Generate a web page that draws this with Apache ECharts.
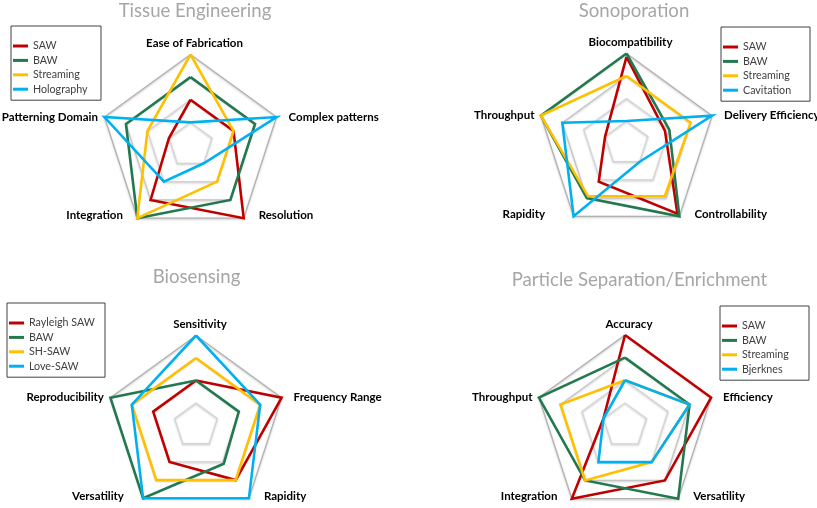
<!DOCTYPE html>
<html><head><meta charset="utf-8">
<script src="https://cdn.jsdelivr.net/npm/echarts@6/dist/echarts.min.js"></script>
<style>html,body{margin:0;padding:0;background:#fff}#c{width:817px;height:508px}</style>
</head><body><div id="c"></div>
<script>
// ---- data (axes listed clockwise from the top, as in the reference) ----
const tissueTitle = 'Tissue Engineering';
const tissueAxes = ['Ease of Fabrication', 'Complex patterns', 'Resolution', 'Integration', 'Patterning Domain'];
const tissueNames = ['SAW', 'BAW', 'Streaming', 'Holography'];
const tissueSAW = [2, 2, 4, 3, 1];
const tissueBAW = [3, 3, 3, 4, 3];
const tissueStreaming = [4, 2, 2, 4, 2];
const tissueHolography = [1, 4, 1, 2, 4];

const sonoTitle = 'Sonoporation';
const sonoAxes = ['Biocompatibility', 'Delivery Efficiency', 'Controllability', 'Rapidity', 'Throughput'];
const sonoNames = ['SAW', 'BAW', 'Streaming', 'Cavitation'];
const sonoSAW = [3.85, 1.8, 3.85, 2.1, 1];
const sonoBAW = [4, 2, 4, 3, 4];
const sonoStreaming = [3, 3, 2.9, 2.9, 4];
const sonoCavitation = [1, 4, 1, 4, 3];

const bioTitle = 'Biosensing';
const bioAxes = ['Sensitivity', 'Frequency Range', 'Rapidity', 'Versatility', 'Reproducibility'];
const bioNames = ['Rayleigh SAW', 'BAW', 'SH-SAW', 'Love-SAW'];
const bioRayleigh = [2, 4, 3, 2, 2];
const bioBAW = [2, 2, 2.1, 4, 4];
const bioSH = [3, 3, 3, 3, 3];
const bioLove = [4, 3, 4, 4, 3];

const sepTitle = 'Particle Separation/Enrichment';
const sepAxes = ['Accuracy', 'Efficiency', 'Versatility', 'Integration', 'Throughput'];
const sepNames = ['SAW', 'BAW', 'Streaming', 'Bjerknes'];
const sepSAW = [4, 4, 3, 4, 1];
const sepBAW = [3, 3, 4, 3, 4];
const sepStreaming = [2, 3, 2, 3, 3];
const sepBjerknes = [2, 3, 2, 2, 1];

const axisMax = 4;

// ---- styling / layout ----
const seriesColors = ['#c00000', '#23794f', '#ffc000', '#00b0f0'];
const panels = [
  { title: tissueTitle, axes: tissueAxes, names: tissueNames, values: [tissueSAW, tissueBAW, tissueStreaming, tissueHolography],
    center: [190.5, 145], radius: 90.5, tx: 190, ty: -4, lg: { left: 11, top: 26, w: 66 } },
  { title: sonoTitle, axes: sonoAxes, names: sonoNames, values: [sonoSAW, sonoBAW, sonoStreaming, sonoCavitation],
    center: [626.5, 143.5], radius: 90, tx: 629, ty: -4, lg: { left: 721, top: 27, w: 65 } },
  { title: bioTitle, axes: bioAxes, names: bioNames, values: [bioRayleigh, bioBAW, bioSH, bioLove],
    center: [196, 425.5], radius: 90, tx: 191.5, ty: 262.5, lg: { left: 7, top: 303, w: 74 } },
  { title: sepTitle, axes: sepAxes, names: sepNames, values: [sepSAW, sepBAW, sepStreaming, sepBjerknes],
    center: [625, 425.5], radius: 90.5, tx: 634.5, ty: 265.5, lg: { left: 720, top: 306, w: 65 } }
];
// echarts places indicators counter-clockwise; reorder so the picture reads clockwise
const ecOrder = [0, 4, 3, 2, 1];
const posKey = ['t', 'r', 'br', 'bl', 'l'];
const nameFont = 'Lato';
const nameSize = 11.5;

const option = { animation: false, title: [], radar: [], legend: [], series: [] };
panels.forEach((p, k) => {
  const base = { fontFamily: nameFont, fontWeight: 'bold', fontSize: nameSize, color: '#000', lineHeight: 14 };
  option.title.push({
    text: p.title, left: p.tx, top: p.ty, textAlign: 'center',
    textStyle: { fontFamily: nameFont, fontSize: 18.6, fontWeight: 'normal', color: '#a6a6a6' }
  });
  option.radar.push({
    center: p.center, radius: p.radius, shape: 'polygon', splitNumber: 4,
    axisNameGap: 0,
    indicator: ecOrder.map(i => ({ name: p.axes[i], min: 0, max: axisMax })),
    axisLine: { show: false }, axisTick: { show: false }, axisLabel: { show: false },
    splitArea: { show: false },
    splitLine: { lineStyle: { color: ['#b0b0b0', '#d4d4d4', '#d4d4d4', '#c4c4c4'], width: 1.2,
      shadowBlur: 2, shadowColor: 'rgba(0,0,0,0.25)', shadowOffsetY: 1 } },
    axisName: {
      formatter: (name) => '{' + posKey[p.axes.indexOf(name)] + '|' + name + '}',
      color: '#000', fontFamily: nameFont, fontWeight: 'bold', fontSize: nameSize,
      rich: {
        t: Object.assign({}, base, { padding: [0, 0, 7.5, 8] }),
        r: Object.assign({}, base, { padding: [0, 0, 0, 12] }),
        br: Object.assign({}, base, { padding: [0, 0, 5, 15] }),
        bl: Object.assign({}, base, { padding: [0, 0, 5, 0], width: 71, align: 'left' }),
        l: Object.assign({}, base, { padding: [0, 6.5, 0, 0] })
      }
    }
  });
  option.legend.push({
    orient: 'vertical', left: p.lg.left, top: p.lg.top, data: p.names,
    icon: 'rect', itemWidth: 15, itemHeight: 3, itemGap: 0.4,
    padding: [13, 2, 4, 2], borderColor: '#404040', borderWidth: 1,
    selectedMode: false,
    textStyle: { fontFamily: nameFont, fontSize: 10.7, color: '#404040', lineHeight: 14, width: p.lg.w }
  });
  option.series.push({
    type: 'radar', radarIndex: k, symbol: 'none', silent: true,
    data: p.values.map((vals, j) => ({
      name: p.names[j],
      value: ecOrder.map(i => vals[i]),
      itemStyle: { color: seriesColors[j] },
      lineStyle: { color: seriesColors[j], width: 2.6, join: 'miter' }
    }))
  });
});

const chart = echarts.init(document.getElementById('c'), null, { renderer: 'canvas' });
chart.setOption(option);
</script>
</body></html>
